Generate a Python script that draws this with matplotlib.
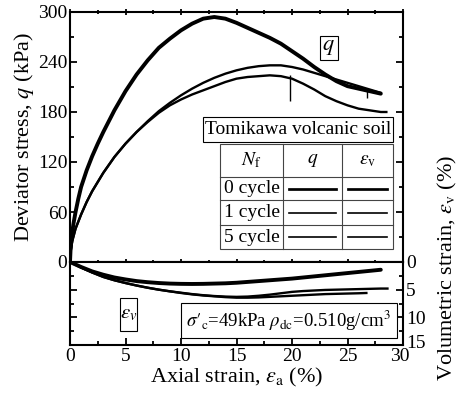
import matplotlib
matplotlib.use("Agg")
import matplotlib.pyplot as plt
import matplotlib.transforms as mtransforms
import numpy as np
from matplotlib.lines import Line2D
from matplotlib.patches import Rectangle

plt.rcParams['font.family'] = ['Liberation Serif', 'DejaVu Serif']
plt.rcParams['mathtext.fontset'] = 'stix'

# deviator stress q (kPa) vs axial strain (%)
ea_q0 = [0, 0.05, 0.15, 0.3, 0.5, 0.75, 1, 1.5, 2, 2.5, 3, 4, 5, 6, 7, 8, 9, 10, 11,
         12, 13, 14, 15, 16, 17, 18, 19, 20, 21, 22, 23, 24, 25, 26, 27, 28]
q0 = [0, 15, 30, 45, 60, 76, 90, 110, 127, 142, 156, 182, 205, 225, 242, 257, 268,
      278, 286, 292, 294, 292, 287, 281, 275, 269, 262, 253, 244, 234, 225, 217,
      211, 208, 205, 202]
ea_q1 = [0, 0.05, 0.2, 0.5, 1, 1.5, 2, 2.5, 3, 4, 5, 6, 7, 8, 9, 10, 11, 12, 13, 14,
         15, 16, 17, 18, 19, 20, 21, 22, 23, 24, 25, 26, 27, 28]
q1 = [0, 12, 25, 40, 57, 72, 85, 96, 107, 126, 142, 156, 169, 181, 191, 200, 208,
      215, 221, 226, 230, 233, 235, 236, 236, 234, 231, 227, 223, 219, 215, 211,
      207, 203]
ea_q5 = [0, 0.05, 0.2, 0.5, 1, 1.5, 2, 2.5, 3, 4, 5, 6, 7, 8, 9, 10, 11, 12, 13, 14,
         15, 16, 17, 18, 19, 20, 21, 22, 23, 24, 25, 26, 27, 28, 28.5]
q5 = [0, 12, 25, 40, 57, 72, 85, 96, 107, 126, 142, 156, 168, 179, 188, 195, 201,
      206, 211, 216, 220, 222, 223, 224, 223, 220, 214, 207, 199, 193, 188, 184,
      182, 180, 180]

# volumetric strain (%) vs axial strain (%)
ea_v0 = [0, 1, 2, 3, 4, 5, 6, 7, 8, 9, 10, 11, 12, 13, 14, 15, 16, 17, 18, 19, 20,
         21, 22, 23, 24, 25, 26, 27, 28]
ev0 = [0, 0.9, 1.7, 2.3, 2.8, 3.15, 3.45, 3.65, 3.8, 3.9, 3.95, 3.97, 3.95, 3.9,
       3.85, 3.75, 3.6, 3.45, 3.3, 3.15, 3.0, 2.8, 2.6, 2.4, 2.2, 2.0, 1.8, 1.6, 1.4]
ea_v1 = [0, 1, 2, 3, 4, 5, 6, 7, 8, 9, 10, 11, 12, 13, 14, 15, 16, 17, 18, 19, 20,
         21, 22, 23, 24, 25, 26, 27, 28, 28.6]
ev1 = [0, 1.0, 1.9, 2.7, 3.3, 3.8, 4.25, 4.65, 5.0, 5.3, 5.55, 5.8, 6.0, 6.15, 6.25,
       6.3, 6.25, 6.1, 5.9, 5.65, 5.4, 5.25, 5.15, 5.05, 5.0, 4.95, 4.9, 4.85, 4.8, 4.8]
ea_v5 = [0, 1, 2, 3, 4, 5, 6, 7, 8, 9, 10, 11, 12, 13, 14, 15, 16, 17, 18, 19, 20,
         21, 22, 23, 24, 25, 26, 26.7]
ev5 = [0, 1.0, 1.9, 2.7, 3.3, 3.8, 4.25, 4.65, 5.0, 5.3, 5.6, 5.85, 6.05, 6.2, 6.35,
       6.45, 6.45, 6.4, 6.3, 6.2, 6.1, 6.0, 5.9, 5.8, 5.75, 5.7, 5.65, 5.6]

# small vertical marks on the q curves
mark_x = [19.8, 26.8]
mark_lo = [193, 197]
mark_hi = [224, 209]

cycles = ['0 cycle', '1 cycle', '5 cycle']
widths = [2.8, 1.7, 1.7]

W, H = 461, 401
fig = plt.figure(figsize=(W / 100, H / 100), dpi=100)

def fx(px):
    return px / W

def fy(py):
    return 1 - py / H

ax = fig.add_axes([fx(70), fy(262), fx(403) - fx(70), fy(12) - fy(262)])
axv = fig.add_axes([fx(70), fy(345), fx(403) - fx(70), fy(262) - fy(345)])

ax.plot(ea_q0, q0, color='black', lw=widths[0], solid_capstyle='round')
ax.plot(ea_q1, q1, color='black', lw=widths[1])
ax.plot(ea_q5, q5, color='black', lw=widths[2])
ax.vlines(mark_x, mark_lo, mark_hi, color='black', lw=1.0)

axv.plot(ea_v0, ev0, color='black', lw=widths[0], solid_capstyle='round')
axv.plot(ea_v1, ev1, color='black', lw=widths[1])
axv.plot(ea_v5, ev5, color='black', lw=widths[2])

ax.set_xlim(0, 30)
ax.set_ylim(0, 300)
ax.set_yticks(np.arange(0, 301, 60))
ax.set_yticks(np.arange(0, 301, 30), minor=True)
ax.set_xticks(np.arange(0, 31, 5))
ax.set_xticks(np.arange(0, 31, 2.5), minor=True)
ax.tick_params(which='both', direction='in', top=True, right=True,
               labelbottom=False, labelsize=14, width=1.3, pad=2)
ax.tick_params(which='major', length=5)
ax.tick_params(which='minor', length=3)
ax.tick_params(axis='x', which='both', direction='inout')
ax.set_ylabel('Deviator stress, $q$ (kPa)', fontsize=16, labelpad=1)

axv.set_xlim(0, 30)
axv.set_ylim(15, 0)
axv.set_yticks([0, 5, 10, 15])
axv.set_yticks(np.arange(0, 15.1, 2.5), minor=True)
axv.set_xticks(np.arange(0, 31, 5))
axv.set_xticks(np.arange(0, 31, 2.5), minor=True)
axv.tick_params(which='both', direction='in', left=True, right=True,
                labelleft=False, labelright=True, labelsize=14, width=1.3, pad=2)
axv.tick_params(which='major', length=5)
axv.tick_params(which='minor', length=3)
axv.tick_params(axis='x', which='both', top=False)
axv.set_xlabel(r'Axial strain, $\varepsilon_{\rm a}$ (%)', fontsize=16, labelpad=1)

# nudge the crowded corner labels apart (as in the original)
fig.canvas.draw()
lab15 = axv.yaxis.get_majorticklabels()[-1]
lab15.set_transform(lab15.get_transform() +
                    mtransforms.ScaledTranslation(0, 4 / 100, fig.dpi_scale_trans))
lab30 = axv.xaxis.get_majorticklabels()[-1]
lab30.set_transform(lab30.get_transform() +
                    mtransforms.ScaledTranslation(-3 / 100, 0, fig.dpi_scale_trans))

for a in (ax, axv):
    for s in a.spines.values():
        s.set_linewidth(1.5)

fig.text(fx(447), fy(268), r'Volumetric strain, $\varepsilon_{\rm v}$ (%)',
         rotation=90, ha='center', va='center', fontsize=16)

ax.text(23.3, 257, '$q$', fontsize=16, ha='center', va='center',
        bbox=dict(boxstyle='square,pad=0.12', fc='white', ec='black', lw=0.8))

# tall ε_v label box in the lower panel
fig.patches.append(Rectangle((fx(120), fy(331)), fx(137) - fx(120), fy(298) - fy(331),
                             transform=fig.transFigure, fc='white', ec='black', lw=0.8))
fig.text(fx(128.5), fy(314), r'$\varepsilon_{v}$', ha='center', va='center', fontsize=15)

axv.text(19.7, 10.6, r"$\sigma\prime_{\rm c}$=49kPa $\rho_{\rm dc}$=0.510g/cm$^3$",
         fontsize=13.5, ha='center', va='center',
         bbox=dict(boxstyle='square,pad=0.3', fc='white', ec='black', lw=0.8))

# title box and legend table
fig.patches.append(Rectangle((fx(203), fy(142)), fx(393) - fx(203), fy(117) - fy(142),
                             transform=fig.transFigure, fc='white', ec='black', lw=0.8))
fig.text(fx(298), fy(129.5), 'Tomikawa volcanic soil', ha='center', va='center', fontsize=14)

cols = [220, 283, 342, 393]
rows = [144, 177, 200, 225, 249]
fig.patches.append(Rectangle((fx(cols[0]), fy(rows[-1])), fx(cols[-1]) - fx(cols[0]),
                             fy(rows[0]) - fy(rows[-1]), transform=fig.transFigure,
                             fc='white', ec='#444444', lw=0.8))
for c in cols[1:-1]:
    fig.lines.append(Line2D([fx(c), fx(c)], [fy(rows[0]), fy(rows[-1])],
                            transform=fig.transFigure, color='#444444', lw=0.8))
for r in rows[1:-1]:
    fig.lines.append(Line2D([fx(cols[0]), fx(cols[-1])], [fy(r), fy(r)],
                            transform=fig.transFigure, color='#444444', lw=0.8))
headers = [r'$N_{\rm f}$', '$q$', r'$\varepsilon_{\rm v}$']
for i, h in enumerate(headers):
    fig.text(fx((cols[i] + cols[i + 1]) / 2), fy((rows[0] + rows[1]) / 2), h,
             ha='center', va='center', fontsize=14)
for j, name in enumerate(cycles):
    yc = fy((rows[j + 1] + rows[j + 2]) / 2)
    fig.text(fx((cols[0] + cols[1]) / 2), yc, name, ha='center', va='center', fontsize=14)
    for i in (1, 2):
        fig.lines.append(Line2D([fx(cols[i] + 6), fx(cols[i + 1] - 6)], [yc, yc],
                                transform=fig.transFigure, color='black',
                                lw=widths[j] * 0.7))

fig.savefig('out.png', dpi=100)
